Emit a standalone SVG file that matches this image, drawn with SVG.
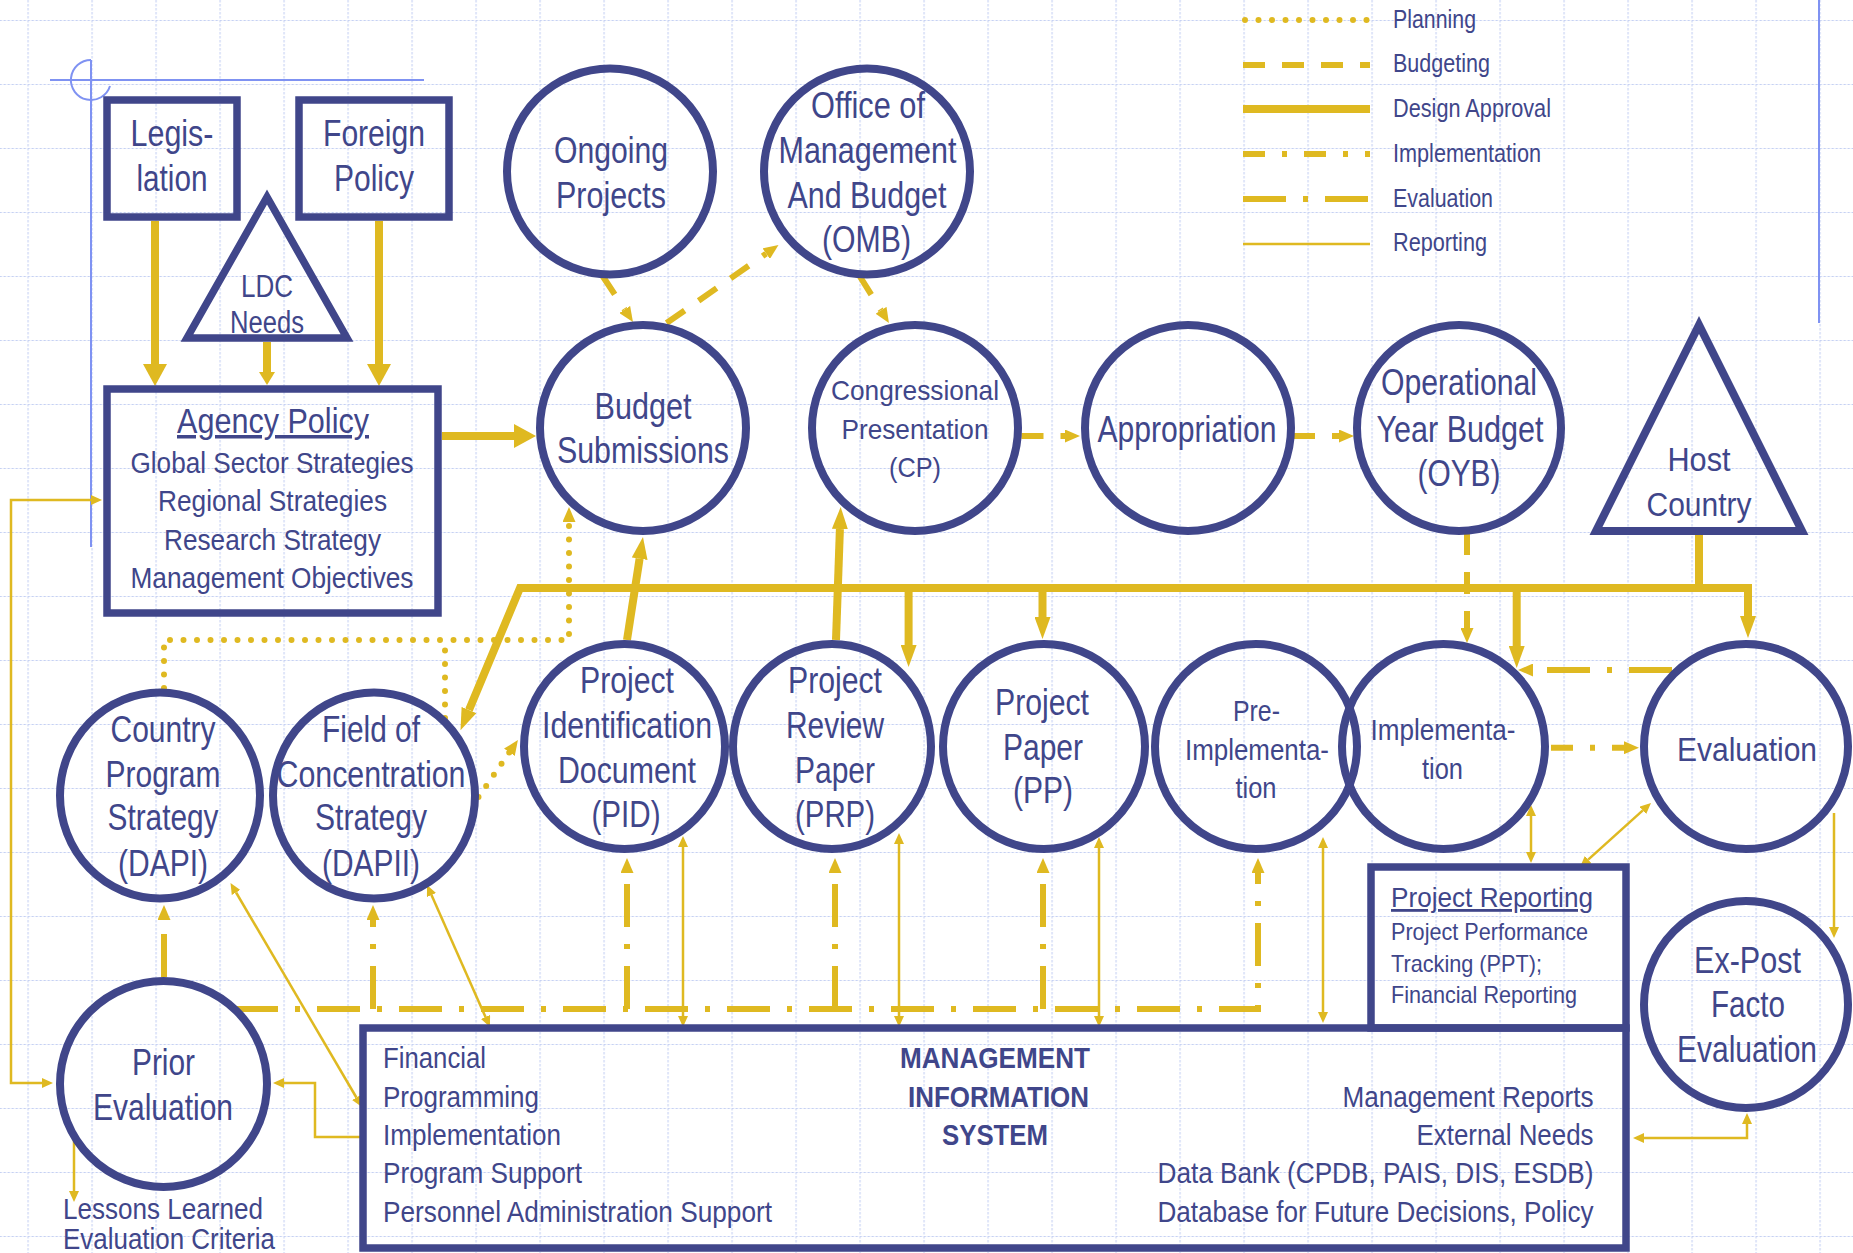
<svg xmlns="http://www.w3.org/2000/svg" width="1853" height="1253" viewBox="0 0 1853 1253">
  <defs>
    <pattern id="grid" x="27.5" y="20" width="64" height="64" patternUnits="userSpaceOnUse">
      <path d="M0.5,0 V64 M0,0.5 H64" fill="none" stroke="#c6d1f3" stroke-width="1.2" stroke-dasharray="2.5 1.5"/>
    </pattern>
    <!-- arrowheads: base sits on the path end, tip points forward -->
    <marker id="mBig" markerUnits="userSpaceOnUse" viewBox="0 0 22 24" refX="0" refY="12" markerWidth="22" markerHeight="24" orient="auto">
      <path d="M0,0 L22,12 L0,24 z" fill="#dfb921"/>
    </marker>
    <marker id="mMed" markerUnits="userSpaceOnUse" viewBox="0 0 22 16" refX="0" refY="8" markerWidth="22" markerHeight="16" orient="auto">
      <path d="M0,0 L22,8 L0,16 z" fill="#dfb921"/>
    </marker>
    <marker id="mSmall" markerUnits="userSpaceOnUse" viewBox="0 0 13 16" refX="0" refY="8" markerWidth="13" markerHeight="16" orient="auto">
      <path d="M0,0 L13,8 L0,16 z" fill="#dfb921"/>
    </marker>
    <marker id="mDash" markerUnits="userSpaceOnUse" viewBox="0 0 15 13" refX="0" refY="6.5" markerWidth="15" markerHeight="13" orient="auto">
      <path d="M0,0 L15,6.5 L0,13 z" fill="#dfb921"/>
    </marker>
    <marker id="mRep" markerUnits="userSpaceOnUse" viewBox="0 0 11 10" refX="0" refY="5" markerWidth="11" markerHeight="10" orient="auto-start-reverse">
      <path d="M0,0 L11,5 L0,10 z" fill="#dfb921"/>
    </marker>
    <style>
      .node { fill: none; stroke: #40468a; stroke-width: 8; }
      .box { fill: none; stroke: #40468a; stroke-width: 7.5; }
      text { font-family: "Liberation Sans Narrow", "Liberation Sans", Arial, sans-serif; fill: #40468a; }
      .c { text-anchor: middle; }
      .e { text-anchor: end; }
      .u { text-decoration: underline; }
      .b { font-weight: bold; }
      .da { fill: none; stroke: #dfb921; stroke-width: 8; stroke-linejoin: miter; }
      .bu { fill: none; stroke: #dfb921; stroke-width: 6; stroke-dasharray: 22 17; }
      .pl { fill: none; stroke: #dfb921; stroke-width: 6; stroke-dasharray: 0 13.5; stroke-linecap: round; }
      .im { fill: none; stroke: #dfb921; stroke-width: 6; stroke-dasharray: 22 17 5 17; }
      .ev { fill: none; stroke: #dfb921; stroke-width: 6; stroke-dasharray: 43 17 5 17; }
      .rp { fill: none; stroke: #dfb921; stroke-width: 2.5; }
      .guide { fill: none; stroke: #7f92f2; stroke-width: 2; }
    </style>
  </defs>

  <rect width="1853" height="1253" fill="#ffffff"/>
  <rect width="1853" height="1253" fill="url(#grid)"/>

  <!-- layout guides -->
  <g id="guides">
    <path class="guide" d="M50,80 H424 M91,60 V547 M1819,0 V323"/>
    <path class="guide" d="M91,60 A20,20 0 1 0 110,86"/>
  </g>

  <!-- legend -->
  <g id="legend">
    <path class="pl" d="M1245,20 H1368"/>
    <path class="bu" d="M1243,65 H1370"/>
    <path class="da" d="M1243,109 H1370"/>
    <path class="im" d="M1243,154 H1370"/>
    <path class="ev" d="M1243,199 H1370"/>
    <path class="rp" d="M1243,244 H1370"/>
    <text x="1393" y="28" font-size="26" textLength="83" lengthAdjust="spacingAndGlyphs">Planning</text>
    <text x="1393" y="72" font-size="26" textLength="97" lengthAdjust="spacingAndGlyphs">Budgeting</text>
    <text x="1393" y="117" font-size="26" textLength="158" lengthAdjust="spacingAndGlyphs">Design Approval</text>
    <text x="1393" y="162" font-size="26" textLength="148" lengthAdjust="spacingAndGlyphs">Implementation</text>
    <text x="1393" y="207" font-size="26" textLength="100" lengthAdjust="spacingAndGlyphs">Evaluation</text>
    <text x="1393" y="251" font-size="26" textLength="94" lengthAdjust="spacingAndGlyphs">Reporting</text>
  </g>

  <!-- connectors -->
  <g id="connectors">
    <!-- design approval -->
    <path class="da" d="M155,221 V364" marker-end="url(#mBig)"/>
    <path class="da" d="M379,221 V364" marker-end="url(#mBig)"/>
    <path class="da" d="M267,342 V372" marker-end="url(#mSmall)"/>
    <path class="da" d="M442,436 H514" marker-end="url(#mBig)"/>
    <path class="da" d="M1699,535 V588 H520 L469,710" marker-end="url(#mMed)"/>
    <path class="da" d="M1699,588 H1748 V616" marker-end="url(#mMed)"/>
    <path class="da" d="M908.6,588 V645" marker-end="url(#mMed)"/>
    <path class="da" d="M1042.5,588 V617" marker-end="url(#mMed)"/>
    <path class="da" d="M1516.7,588 V646" marker-end="url(#mMed)"/>
    <path class="da" d="M627,640 L639.6,558.7" marker-end="url(#mMed)"/>
    <path class="da" d="M836,640 L839.9,529" marker-end="url(#mMed)"/>

    <!-- budgeting -->
    <path class="bu" d="M602.6,276 L624.7,309.5" marker-end="url(#mDash)"/>
    <path class="bu" d="M666.6,323 L766.2,253.6" marker-end="url(#mDash)"/>
    <path class="bu" d="M859.6,276 L881,310.3" marker-end="url(#mDash)"/>
    <path class="bu" d="M1021.5,436 H1065" marker-end="url(#mDash)"/>
    <path class="bu" d="M1293,436 H1339" marker-end="url(#mDash)"/>
    <path class="bu" d="M1467,533 V628" marker-end="url(#mDash)"/>

    <!-- planning -->
    <path class="pl" d="M164,688 V640 H569 V522" marker-end="url(#mDash)"/>
    <path class="pl" d="M445,718 V640"/>
    <path class="pl" d="M478.5,797 L509.4,752.3" marker-end="url(#mDash)"/>

    <!-- implementation -->
    <path class="im" d="M1551,747.7 H1624" marker-end="url(#mDash)"/>

    <!-- evaluation -->
    <path class="ev" d="M1672,670 H1533" marker-end="url(#mDash)"/>
    <path class="ev" d="M164,977 V920" marker-end="url(#mDash)"/>
    <path class="ev" d="M235,1009 H1258 V873" marker-end="url(#mDash)"/>
    <path class="ev" d="M373,1009 V920" marker-end="url(#mDash)"/>
    <path class="ev" d="M627,1009 V873" marker-end="url(#mDash)"/>
    <path class="ev" d="M835,1009 V873" marker-end="url(#mDash)"/>
    <path class="ev" d="M1043,1009 V873" marker-end="url(#mDash)"/>

    <!-- reporting -->
    <path class="rp" d="M91,500 H11 V1083 H42" marker-start="url(#mRep)" marker-end="url(#mRep)"/>
    <path class="rp" d="M360,1137 H315 V1083 H284" marker-end="url(#mRep)"/>
    <path class="rp" d="M74,1140 V1191" marker-end="url(#mRep)"/>
    <path class="rp" d="M683,847 V1016" marker-start="url(#mRep)" marker-end="url(#mRep)"/>
    <path class="rp" d="M899,844 V1016" marker-start="url(#mRep)" marker-end="url(#mRep)"/>
    <path class="rp" d="M1099,848 V1016" marker-start="url(#mRep)" marker-end="url(#mRep)"/>
    <path class="rp" d="M1323,848 V1012" marker-start="url(#mRep)" marker-end="url(#mRep)"/>
    <path class="rp" d="M236.1,892.5 L356.4,1097.5" marker-start="url(#mRep)" marker-end="url(#mRep)"/>
    <path class="rp" d="M431.5,895.1 L485.5,1016.9" marker-start="url(#mRep)" marker-end="url(#mRep)"/>
    <path class="rp" d="M1531,816 V852" marker-start="url(#mRep)" marker-end="url(#mRep)"/>
    <path class="rp" d="M1642.8,810.4 L1588.2,859.6" marker-start="url(#mRep)" marker-end="url(#mRep)"/>
    <path class="rp" d="M1834,813 V927" marker-end="url(#mRep)"/>
    <path class="rp" d="M1747,1124 V1138 H1644" marker-start="url(#mRep)" marker-end="url(#mRep)"/>
  </g>

  <!-- nodes -->
  <g id="legislation">
    <rect class="box" x="107" y="100" width="130" height="117"/>
    <text class="c" x="172" y="146" font-size="36" textLength="83" lengthAdjust="spacingAndGlyphs">Legis-</text>
    <text class="c" x="172" y="191" font-size="36" textLength="71" lengthAdjust="spacingAndGlyphs">lation</text>
  </g>
  <g id="foreign-policy">
    <rect class="box" x="299" y="100" width="150" height="117"/>
    <text class="c" x="374" y="146" font-size="36" textLength="102" lengthAdjust="spacingAndGlyphs">Foreign</text>
    <text class="c" x="374" y="191" font-size="36" textLength="80" lengthAdjust="spacingAndGlyphs">Policy</text>
  </g>
  <g id="ldc-needs">
    <polygon class="box" points="267,197 187,338 347,338"/>
    <text class="c" x="267" y="297" font-size="31" textLength="52" lengthAdjust="spacingAndGlyphs">LDC</text>
    <text class="c" x="267" y="333" font-size="31" textLength="74" lengthAdjust="spacingAndGlyphs">Needs</text>
  </g>
  <g id="agency-policy">
    <rect class="box" x="107" y="389" width="331" height="224"/>
    <text class="c u" x="273" y="433" font-size="35" textLength="192" lengthAdjust="spacingAndGlyphs">Agency Policy</text>
    <text class="c" x="272" y="473" font-size="30" textLength="283" lengthAdjust="spacingAndGlyphs">Global Sector Strategies</text>
    <text class="c" x="272.5" y="511" font-size="30" textLength="229" lengthAdjust="spacingAndGlyphs">Regional Strategies</text>
    <text class="c" x="272.5" y="550" font-size="30" textLength="217" lengthAdjust="spacingAndGlyphs">Research Strategy</text>
    <text class="c" x="272" y="588" font-size="30" textLength="283" lengthAdjust="spacingAndGlyphs">Management Objectives</text>
  </g>
  <g id="ongoing-projects">
    <ellipse class="node" cx="610" cy="171.5" rx="103" ry="103"/>
    <text class="c" x="611" y="163" font-size="37" textLength="114" lengthAdjust="spacingAndGlyphs">Ongoing</text>
    <text class="c" x="611" y="208" font-size="37" textLength="110" lengthAdjust="spacingAndGlyphs">Projects</text>
  </g>
  <g id="omb">
    <ellipse class="node" cx="867" cy="171.5" rx="103" ry="103"/>
    <text class="c" x="868" y="118" font-size="37" textLength="114" lengthAdjust="spacingAndGlyphs">Office of</text>
    <text class="c" x="867.5" y="163" font-size="37" textLength="178" lengthAdjust="spacingAndGlyphs">Management</text>
    <text class="c" x="867" y="208" font-size="37" textLength="159" lengthAdjust="spacingAndGlyphs">And Budget</text>
    <text class="c" x="866.5" y="252" font-size="37" textLength="89" lengthAdjust="spacingAndGlyphs">(OMB)</text>
  </g>
  <g id="budget-submissions">
    <ellipse class="node" cx="643" cy="428" rx="103" ry="103"/>
    <text class="c" x="643" y="419" font-size="36" textLength="97" lengthAdjust="spacingAndGlyphs">Budget</text>
    <text class="c" x="643" y="463" font-size="36" textLength="172" lengthAdjust="spacingAndGlyphs">Submissions</text>
  </g>
  <g id="congressional-presentation">
    <ellipse class="node" cx="915" cy="428" rx="103" ry="103"/>
    <text class="c" x="915" y="400" font-size="28" textLength="168" lengthAdjust="spacingAndGlyphs">Congressional</text>
    <text class="c" x="915" y="439" font-size="28" textLength="147" lengthAdjust="spacingAndGlyphs">Presentation</text>
    <text class="c" x="915" y="477" font-size="28" textLength="52" lengthAdjust="spacingAndGlyphs">(CP)</text>
  </g>
  <g id="appropriation">
    <ellipse class="node" cx="1188" cy="428" rx="103" ry="103"/>
    <text class="c" x="1187" y="442" font-size="37" textLength="179" lengthAdjust="spacingAndGlyphs">Appropriation</text>
  </g>
  <g id="oyb">
    <ellipse class="node" cx="1459" cy="428" rx="102" ry="103"/>
    <text class="c" x="1459" y="395" font-size="37" textLength="156" lengthAdjust="spacingAndGlyphs">Operational</text>
    <text class="c" x="1460" y="442" font-size="37" textLength="167" lengthAdjust="spacingAndGlyphs">Year Budget</text>
    <text class="c" x="1459" y="486" font-size="37" textLength="83" lengthAdjust="spacingAndGlyphs">(OYB)</text>
  </g>
  <g id="host-country">
    <polygon class="node" points="1699,325 1596,531 1802,531"/>
    <text class="c" x="1699" y="471" font-size="34" textLength="63" lengthAdjust="spacingAndGlyphs">Host</text>
    <text class="c" x="1699" y="516" font-size="34" textLength="105" lengthAdjust="spacingAndGlyphs">Country</text>
  </g>
  <g id="country-program-strategy">
    <ellipse class="node" cx="160" cy="795.5" rx="100" ry="103"/>
    <text class="c" x="163" y="742" font-size="37" textLength="105" lengthAdjust="spacingAndGlyphs">Country</text>
    <text class="c" x="163" y="787" font-size="37" textLength="115" lengthAdjust="spacingAndGlyphs">Program</text>
    <text class="c" x="163" y="830" font-size="37" textLength="111" lengthAdjust="spacingAndGlyphs">Strategy</text>
    <text class="c" x="163" y="876" font-size="37" textLength="90" lengthAdjust="spacingAndGlyphs">(DAPI)</text>
  </g>
  <g id="field-of-concentration">
    <ellipse class="node" cx="374" cy="795.5" rx="101" ry="103"/>
    <text class="c" x="371" y="742" font-size="37" textLength="98" lengthAdjust="spacingAndGlyphs">Field of</text>
    <text class="c" x="371" y="787" font-size="37" textLength="189" lengthAdjust="spacingAndGlyphs">Concentration</text>
    <text class="c" x="371" y="830" font-size="37" textLength="112" lengthAdjust="spacingAndGlyphs">Strategy</text>
    <text class="c" x="371" y="876" font-size="37" textLength="98" lengthAdjust="spacingAndGlyphs">(DAPII)</text>
  </g>
  <g id="pid">
    <ellipse class="node" cx="624.5" cy="746.5" rx="100.5" ry="102.5"/>
    <text class="c" x="627" y="693" font-size="37" textLength="94" lengthAdjust="spacingAndGlyphs">Project</text>
    <text class="c" x="627" y="738" font-size="37" textLength="170" lengthAdjust="spacingAndGlyphs">Identification</text>
    <text class="c" x="627" y="783" font-size="37" textLength="138" lengthAdjust="spacingAndGlyphs">Document</text>
    <text class="c" x="626" y="827" font-size="37" textLength="69" lengthAdjust="spacingAndGlyphs">(PID)</text>
  </g>
  <g id="prp">
    <ellipse class="node" cx="832" cy="746.5" rx="99" ry="102.5"/>
    <text class="c" x="835" y="693" font-size="37" textLength="94" lengthAdjust="spacingAndGlyphs">Project</text>
    <text class="c" x="835" y="738" font-size="37" textLength="98" lengthAdjust="spacingAndGlyphs">Review</text>
    <text class="c" x="835" y="783" font-size="37" textLength="80" lengthAdjust="spacingAndGlyphs">Paper</text>
    <text class="c" x="835" y="827" font-size="37" textLength="80" lengthAdjust="spacingAndGlyphs">(PRP)</text>
  </g>
  <g id="pp">
    <ellipse class="node" cx="1044" cy="746.5" rx="101" ry="102.5"/>
    <text class="c" x="1042" y="715" font-size="37" textLength="94" lengthAdjust="spacingAndGlyphs">Project</text>
    <text class="c" x="1043" y="760" font-size="37" textLength="80" lengthAdjust="spacingAndGlyphs">Paper</text>
    <text class="c" x="1043" y="803" font-size="37" textLength="60" lengthAdjust="spacingAndGlyphs">(PP)</text>
  </g>
  <g id="pre-implementation">
    <ellipse class="node" cx="1256" cy="746.5" rx="101" ry="102.5"/>
    <text class="c" x="1256.5" y="721" font-size="29" textLength="47" lengthAdjust="spacingAndGlyphs">Pre-</text>
    <text class="c" x="1257" y="760" font-size="29" textLength="144" lengthAdjust="spacingAndGlyphs">Implementa-</text>
    <text class="c" x="1256" y="798" font-size="29" textLength="41" lengthAdjust="spacingAndGlyphs">tion</text>
  </g>
  <g id="implementation">
    <ellipse class="node" cx="1443.5" cy="746.5" rx="101.5" ry="102.5"/>
    <text class="c" x="1443" y="740" font-size="29" textLength="145" lengthAdjust="spacingAndGlyphs">Implementa-</text>
    <text class="c" x="1442.5" y="779" font-size="29" textLength="41" lengthAdjust="spacingAndGlyphs">tion</text>
  </g>
  <g id="evaluation">
    <ellipse class="node" cx="1746" cy="746.5" rx="102" ry="102.5"/>
    <text class="c" x="1747" y="761" font-size="34" textLength="140" lengthAdjust="spacingAndGlyphs">Evaluation</text>
  </g>
  <g id="prior-evaluation">
    <ellipse class="node" cx="163.5" cy="1084" rx="103.5" ry="103"/>
    <text class="c" x="163.5" y="1075" font-size="37" textLength="63" lengthAdjust="spacingAndGlyphs">Prior</text>
    <text class="c" x="163" y="1120" font-size="37" textLength="140" lengthAdjust="spacingAndGlyphs">Evaluation</text>
  </g>
  <g id="lessons-learned">
    <text x="63" y="1219" font-size="29" textLength="200" lengthAdjust="spacingAndGlyphs">Lessons Learned</text>
    <text x="63" y="1249" font-size="29" textLength="212" lengthAdjust="spacingAndGlyphs">Evaluation Criteria</text>
  </g>
  <g id="project-reporting">
    <rect class="box" x="1371" y="867" width="255" height="161"/>
    <text x="1391" y="907" font-size="28" class="u" textLength="202" lengthAdjust="spacingAndGlyphs">Project Reporting</text>
    <text x="1391" y="940" font-size="24" textLength="197" lengthAdjust="spacingAndGlyphs">Project Performance</text>
    <text x="1391" y="972" font-size="24" textLength="151" lengthAdjust="spacingAndGlyphs">Tracking (PPT);</text>
    <text x="1391" y="1003" font-size="24" textLength="186" lengthAdjust="spacingAndGlyphs">Financial Reporting</text>
  </g>
  <g id="mis">
    <rect class="box" x="363" y="1028" width="1263" height="220"/>
    <text x="383" y="1068" font-size="30" textLength="103" lengthAdjust="spacingAndGlyphs">Financial</text>
    <text x="383" y="1107" font-size="30" textLength="156" lengthAdjust="spacingAndGlyphs">Programming</text>
    <text x="383" y="1145" font-size="30" textLength="178" lengthAdjust="spacingAndGlyphs">Implementation</text>
    <text x="383" y="1183" font-size="30" textLength="199" lengthAdjust="spacingAndGlyphs">Program Support</text>
    <text x="383" y="1222" font-size="30" textLength="389" lengthAdjust="spacingAndGlyphs">Personnel Administration Support</text>
    <text class="c b" x="995" y="1068" font-size="30" textLength="190" lengthAdjust="spacingAndGlyphs">MANAGEMENT</text>
    <text class="c b" x="998.5" y="1107" font-size="30" textLength="181" lengthAdjust="spacingAndGlyphs">INFORMATION</text>
    <text class="c b" x="995" y="1145" font-size="30" textLength="106" lengthAdjust="spacingAndGlyphs">SYSTEM</text>
    <text class="e" x="1593.5" y="1107" font-size="30" textLength="251" lengthAdjust="spacingAndGlyphs">Management Reports</text>
    <text class="e" x="1593.5" y="1145" font-size="30" textLength="177" lengthAdjust="spacingAndGlyphs">External Needs</text>
    <text class="e" x="1593.5" y="1183" font-size="30" textLength="436" lengthAdjust="spacingAndGlyphs">Data Bank (CPDB, PAIS, DIS, ESDB)</text>
    <text class="e" x="1593.5" y="1222" font-size="30" textLength="436" lengthAdjust="spacingAndGlyphs">Database for Future Decisions, Policy</text>
  </g>
  <g id="ex-post-facto-evaluation">
    <ellipse class="node" cx="1746" cy="1004.5" rx="102" ry="103.5"/>
    <text class="c" x="1747.5" y="973" font-size="37" textLength="107" lengthAdjust="spacingAndGlyphs">Ex-Post</text>
    <text class="c" x="1748" y="1017" font-size="37" textLength="74" lengthAdjust="spacingAndGlyphs">Facto</text>
    <text class="c" x="1747" y="1062" font-size="37" textLength="140" lengthAdjust="spacingAndGlyphs">Evaluation</text>
  </g>
</svg>
